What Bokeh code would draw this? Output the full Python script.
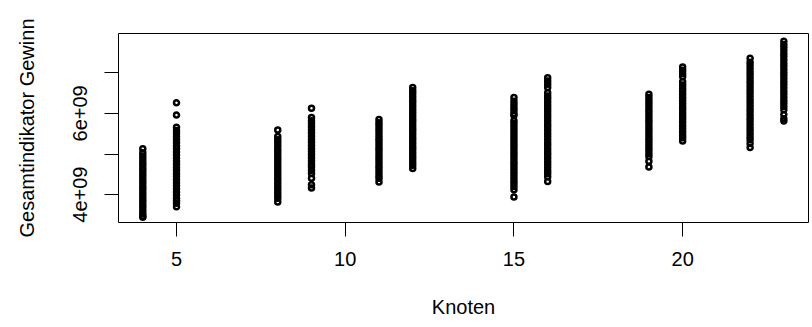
from bokeh.plotting import figure
from bokeh.models import Range1d, FixedTicker, ColumnDataSource
from bokeh.embed import file_html
from bokeh.resources import INLINE

# ---- data (values in 1e9) ----
knoten = [4, 5, 8, 9, 11, 12, 15, 16, 19, 20, 22, 23]

gewinn_k4 = [5.13, 5.03, 4.95, 4.88, 4.80, 4.73, 4.65, 4.58, 4.50, 4.43, 4.35, 4.28,
             4.20, 4.13, 4.05, 3.98, 3.90, 3.83, 3.75, 3.68, 3.60, 3.53, 3.47, 3.44]
gewinn_k5 = [6.26, 5.96, 5.66, 5.58, 5.51, 5.43, 5.36, 5.28, 5.20, 5.13, 5.05, 4.98,
             4.90, 4.82, 4.75, 4.67, 4.60, 4.52, 4.45, 4.37, 4.29, 4.22, 4.14, 4.06,
             3.99, 3.91, 3.85, 3.79, 3.70]
gewinn_k8 = [5.59, 5.43, 5.35, 5.28, 5.20, 5.12, 5.05, 4.97, 4.89, 4.82, 4.74, 4.66,
             4.59, 4.51, 4.43, 4.36, 4.28, 4.20, 4.13, 4.05, 3.98, 3.91, 3.82]
gewinn_k9 = [6.13, 5.90, 5.82, 5.75, 5.67, 5.59, 5.52, 5.44, 5.36, 5.29, 5.21, 5.13,
             5.06, 4.98, 4.91, 4.83, 4.75, 4.68, 4.60, 4.52, 4.40, 4.24, 4.16]
gewinn_k11 = [5.85, 5.77, 5.70, 5.62, 5.55, 5.47, 5.39, 5.32, 5.24, 5.16, 5.09, 5.01,
              4.93, 4.86, 4.78, 4.70, 4.63, 4.55, 4.47, 4.40, 4.31]
gewinn_k12 = [6.64, 6.56, 6.49, 6.41, 6.33, 6.26, 6.18, 6.10, 6.03, 5.95, 5.87, 5.80,
              5.72, 5.64, 5.57, 5.49, 5.41, 5.34, 5.26, 5.18, 5.11, 5.03, 4.95, 4.88,
              4.80, 4.72, 4.64]
gewinn_k15 = [6.39, 6.30, 6.22, 6.14, 6.07, 5.99, 5.95, 5.82, 5.75, 5.67, 5.59, 5.51,
              5.43, 5.35, 5.27, 5.20, 5.12, 5.04, 4.97, 4.89, 4.81, 4.74, 4.66, 4.58,
              4.51, 4.43, 4.35, 4.28, 4.20, 4.12, 3.94]
gewinn_k16 = [6.88, 6.80, 6.72, 6.64, 6.51, 6.43, 6.36, 6.28, 6.20, 6.13, 6.05, 5.97,
              5.90, 5.82, 5.74, 5.67, 5.59, 5.51, 5.44, 5.36, 5.28, 5.21, 5.13, 5.05,
              4.98, 4.90, 4.82, 4.75, 4.67, 4.59, 4.52, 4.44, 4.32]
gewinn_k19 = [6.47, 6.39, 6.31, 6.24, 6.16, 6.08, 6.01, 5.93, 5.85, 5.78, 5.70, 5.62,
              5.55, 5.47, 5.39, 5.32, 5.24, 5.16, 5.09, 5.01, 4.94, 4.82, 4.68]
gewinn_k20 = [7.14, 7.06, 6.98, 6.91, 6.78, 6.70, 6.62, 6.55, 6.47, 6.39, 6.32, 6.24,
              6.16, 6.09, 6.01, 5.93, 5.86, 5.78, 5.70, 5.63, 5.55, 5.47, 5.40, 5.32]
gewinn_k22 = [7.36, 7.26, 7.19, 7.11, 7.03, 6.96, 6.88, 6.80, 6.73, 6.65, 6.57, 6.50,
              6.42, 6.34, 6.27, 6.19, 6.11, 6.04, 5.96, 5.88, 5.81, 5.73, 5.65, 5.58,
              5.50, 5.42, 5.35, 5.26, 5.16]
gewinn_k23 = [7.78, 7.70, 7.63, 7.55, 7.47, 7.40, 7.32, 7.24, 7.17, 7.09, 7.01, 6.94,
              6.86, 6.78, 6.71, 6.63, 6.55, 6.48, 6.40, 6.32, 6.25, 6.17, 6.09, 5.97,
              5.87, 5.81]

gewinn_cols = [gewinn_k4, gewinn_k5, gewinn_k8, gewinn_k9, gewinn_k11, gewinn_k12,
               gewinn_k15, gewinn_k16, gewinn_k19, gewinn_k20, gewinn_k22, gewinn_k23]

x_ticks = [5, 10, 15, 20]
y_ticks = [4e9, 5e9, 6e9, 7e9]
y_tick_labels = ["4e+09", "", "6e+09", ""]

# ---- build source ----
xs, ys = [], []
for k, col in zip(knoten, gewinn_cols):
    for v in col:
        xs.append(k)
        ys.append(v * 1e9)
src = ColumnDataSource(data=dict(x=xs, y=ys))

FONT = "Liberation Sans"
FS = "20px"

p = figure(width=812, height=327, output_backend="svg", toolbar_location=None,
           x_range=Range1d(3.28, 23.73), y_range=Range1d(3.313e9, 7.968e9),
           min_border_left=118, min_border_right=4, min_border_top=33,
           min_border_bottom=105)

p.scatter("x", "y", source=src, marker="circle", size=5, line_width=2.5,
          line_color="black", fill_color=None)

p.xgrid.visible = False
p.ygrid.visible = False
p.background_fill_color = "white"
p.border_fill_color = "white"
p.outline_line_color = "black"
p.outline_line_width = 1

for ax in (p.xaxis[0], p.yaxis[0]):
    ax.axis_line_color = None
    ax.major_tick_out = 14
    ax.major_tick_in = 0
    ax.major_tick_line_color = "black"
    ax.minor_tick_line_color = None
    ax.major_label_text_font = FONT
    ax.major_label_text_font_size = FS
    ax.major_label_text_color = "black"
    ax.axis_label_text_font = FONT
    ax.axis_label_text_font_size = FS
    ax.axis_label_text_font_style = "normal"
    ax.axis_label_text_color = "black"

p.xaxis.ticker = FixedTicker(ticks=x_ticks)
p.yaxis.ticker = FixedTicker(ticks=y_ticks)
p.yaxis.major_label_overrides = {float(t): l for t, l in zip(y_ticks, y_tick_labels)}
p.yaxis.major_label_orientation = "vertical"

p.xaxis.axis_label = "Knoten"
p.yaxis.axis_label = "Gesamtindikator Gewinn"
p.xaxis.major_label_standoff = 15
p.xaxis.axis_label_standoff = 27
p.yaxis.major_label_standoff = 17
p.yaxis.axis_label_standoff = 33

open("out.html", "w").write(file_html(p, INLINE))
